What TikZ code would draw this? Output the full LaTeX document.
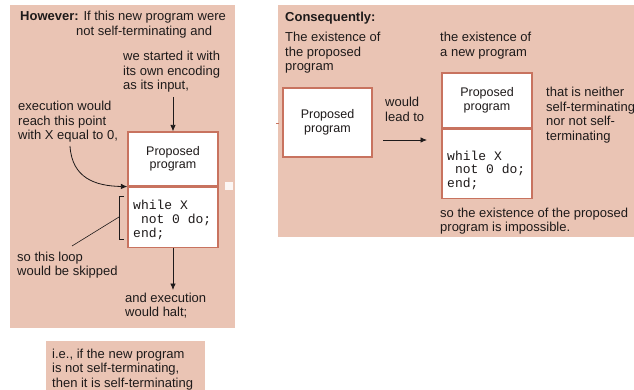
\documentclass[tikz,border=0pt]{standalone}
\usepackage{fontspec}
\setmainfont{Liberation Sans}
\setmonofont{Liberation Mono}
\usetikzlibrary{arrows.meta, positioning}

\definecolor{panel}{HTML}{EAC4B4}
\definecolor{edge}{HTML}{C8735F}
\definecolor{ink}{HTML}{1E1A1A}

\tikzset{
  txt/.style={font=\fontsize{13}{14.5}\selectfont, text=ink, align=left, inner sep=0pt, anchor=base west},
  code/.style={font=\ttfamily\fontsize{13}{14}\selectfont, text=ink, align=left, inner sep=0pt, anchor=base west},
  progbox/.style={draw=edge, line width=1.2pt, fill=white, minimum width=90pt, inner sep=0pt, align=center, font=\fontsize{12.5}{13.5}\selectfont, text=ink},
  arr/.style={-{Latex[length=6.5pt,width=5.5pt]}, ink, line width=0.8pt},
}

\begin{document}
\begin{tikzpicture}[x=1pt, y=-1pt]
\clip (0,0) rectangle (634,390);
% panels
\fill[panel] (10,5) rectangle (235,328);
\fill[panel] (278,5) rectangle (634,237);
\fill[panel] (46,341) rectangle (205,390);
\fill[white!85!panel] (225,182) rectangle (233,190);
\draw[edge, line width=1pt] (276,124) -- (279,124);

% left panel: the new program run on itself
% (multi-line nodes sit on the baseline of their last line)
\node[txt] (however) at (20,21) {\textbf{However:} If this new program were};
\node[txt] (notself) at (76,36) {not self-terminating and};
\node[txt] (started) at (123,90) {we started it with\\its own encoding\\as its input,};
\node[txt] (reach) at (18,140) {execution would\\reach this point\\with X equal to 0,};
\node[progbox, minimum height=54pt] (newtop) at (173,159) {Proposed\\program};
\node[progbox, minimum height=60pt, anchor=north] (newcode) at (newtop.south) {};
\node[code] (loop) at (133,237) {while X\\\ not 0 do;\\end;};
\node[txt] (skipped) at (17,275.5) {so this loop\\would be skipped};
\node[txt] (halt) at (125,316.5) {and execution\\would halt;};

\coordinate (startin) at (173,97);
\coordinate (reachend) at (70,146);
\coordinate (brtop) at (124,196);
\coordinate (brbot) at (124,239);
\coordinate (brmid) at (119,217);
\coordinate (skipend) at (72,246);
\coordinate (haltin) at (173,290);

\draw[arr] (startin) -- (newtop.north);
\draw[arr] (reachend) .. controls (72,178) and (95,186) .. (newcode.north west);
\draw[ink, line width=0.8pt] (brtop) -- ++(-5,0) |- (brbot);
\draw[ink, line width=0.6pt] (brmid) -- (skipend);
\draw[arr] (newcode.south) -- (haltin);

% right panel: the consequence
\node[txt] (conseq) at (285,22) {\textbf{Consequently:}};
\node[txt] (exist) at (285,71) {The existence of\\the proposed\\program};
\node[txt] (existnew) at (440,56.5) {the existence of\\a new program};
\node[progbox, minimum width=89pt, minimum height=69pt] (oldprog) at (327.5,122.5) {Proposed\\program};
\node[txt] (lead) at (385,121.5) {would\\lead to};
\node[progbox, minimum height=55pt] (newtop2) at (487,100.5) {Proposed\\program};
\node[progbox, minimum height=69pt, anchor=north] (newcode2) at (newtop2.south) {};
\node[code] (loop2) at (447,188) {while X\\\ not 0 do;\\end;};
\node[txt] (neither) at (546,140.5) {that is neither\\self-terminating\\nor not self-\\terminating};
\node[txt] (impossible) at (440,231.5) {so the existence of the proposed\\program is impossible.};

\coordinate (leadfrom) at (383,140);
\coordinate (leadto) at (427,140);
\draw[arr] (leadfrom) -- (leadto);

% note below
\node[txt] (ie) at (52,387) {i.e., if the new program\\is not self-terminating,\\then it is self-terminating};
\end{tikzpicture}
\end{document}
